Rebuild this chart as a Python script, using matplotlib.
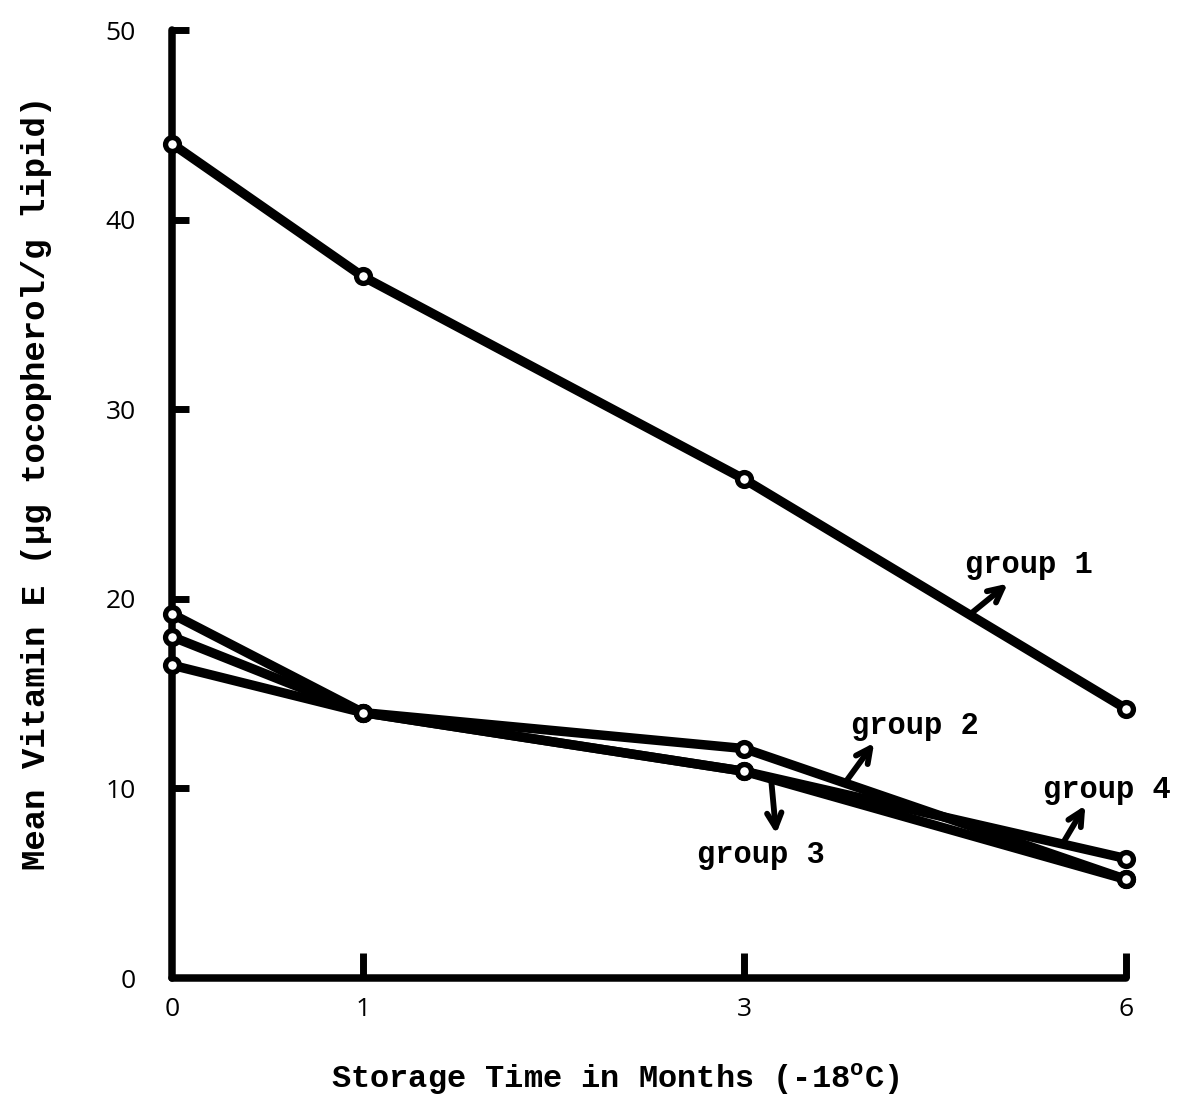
import numpy as np
import matplotlib
matplotlib.use("Agg")
import matplotlib.pyplot as plt

# Storage time (months at -18 C) and mean vitamin E per group
months = [0, 1, 3, 6]
group1 = [44.0, 37.0, 26.3, 14.2]
group2 = [19.2, 14.0, 12.1, 5.2]
group3 = [18.0, 14.0, 10.9, 5.2]
group4 = [16.5, 14.0, 10.9, 6.3]
series = {"group 1": group1, "group 2": group2, "group 3": group3, "group 4": group4}

x_ticks = [0, 1, 3, 6]
y_ticks = [0, 10, 20, 30, 40, 50]

# The month axis is spaced evenly up to month 3, then compressed to 6
pos_months = [0, 1, 3, 6]
pos_axis = [0, 1, 3, 5]


def fwd(m):
    return np.interp(m, pos_months, pos_axis)


def inv(p):
    return np.interp(p, pos_axis, pos_months)


mono = ["Liberation Mono", "DejaVu Sans Mono"]
plt.rcParams["mathtext.fontset"] = "custom"
plt.rcParams["mathtext.rm"] = "Liberation Mono:bold"

fig = plt.figure(figsize=(11.8, 10.95), dpi=100)
ax = fig.add_axes([172 / 1180, 117 / 1095, 954 / 1180, 948 / 1095])
ax.set_xscale("function", functions=(fwd, inv))
ax.set_xlim(0, 6)
ax.set_ylim(0, 50)

for name, vals in series.items():
    ax.plot(months, vals, color="black", lw=6.8, solid_capstyle="round",
            marker="o", ms=10, mfc="white", mec="black", mew=3.8,
            clip_on=False, zorder=3)

for side in ("top", "right"):
    ax.spines[side].set_visible(False)
for side in ("left", "bottom"):
    ax.spines[side].set_linewidth(5.4)
    ax.spines[side].set_capstyle("round")

ax.set_xticks(x_ticks)
ax.set_xticklabels([str(t) for t in x_ticks])
ax.set_yticks(y_ticks)
ax.set_yticklabels([str(t) for t in y_ticks])
ax.tick_params(axis="both", direction="in", width=5, labelsize=19,
               colors="black")
ax.tick_params(axis="y", length=12, pad=26)
ax.tick_params(axis="x", length=18, pad=14)
ax.xaxis.get_major_ticks()[0].tick1line.set_visible(False)
ax.yaxis.get_major_ticks()[0].tick1line.set_visible(False)
for lab in ax.get_xticklabels() + ax.get_yticklabels():
    lab.set_family(["Open Sans", "DejaVu Sans"])

ax.set_xlabel("Storage Time in Months (-18$^{\\rm o}$C)", family=mono,
              fontsize=23, fontweight="bold")
ax.xaxis.set_label_coords(0.464, -0.088)
ax.set_ylabel("Mean Vitamin E (\u00b5g tocopherol/g lipid)", family=mono,
              fontsize=24.5, fontweight="bold")
ax.yaxis.set_label_coords(-0.126, 0.522)

# Group labels with arrows pointing onto their lines
notes = [
    ("group 1", group1, 4.77, (5.07, 20.8), (5.24, 21.8)),
    ("group 2", group2, 3.79, (4.02, 12.4), (4.34, 13.3)),
    ("group 3", group3, 3.21, (3.25, 7.6), (3.13, 6.5)),
    ("group 4", group4, 5.50, (5.68, 9.1), (5.85, 9.9)),
]
for label, vals, m0, tip, txt in notes:
    base = (m0, float(np.interp(m0, months, vals)))
    ax.annotate("", xy=tip, xytext=base,
                arrowprops=dict(arrowstyle="->", lw=4.2, color="black",
                                mutation_scale=26, shrinkA=0, shrinkB=0),
                annotation_clip=False)
    ax.text(txt[0], txt[1], label, family=mono, fontsize=22,
            fontweight="bold", ha="center", va="center")

fig.savefig("out.png", dpi=100, facecolor="white")
